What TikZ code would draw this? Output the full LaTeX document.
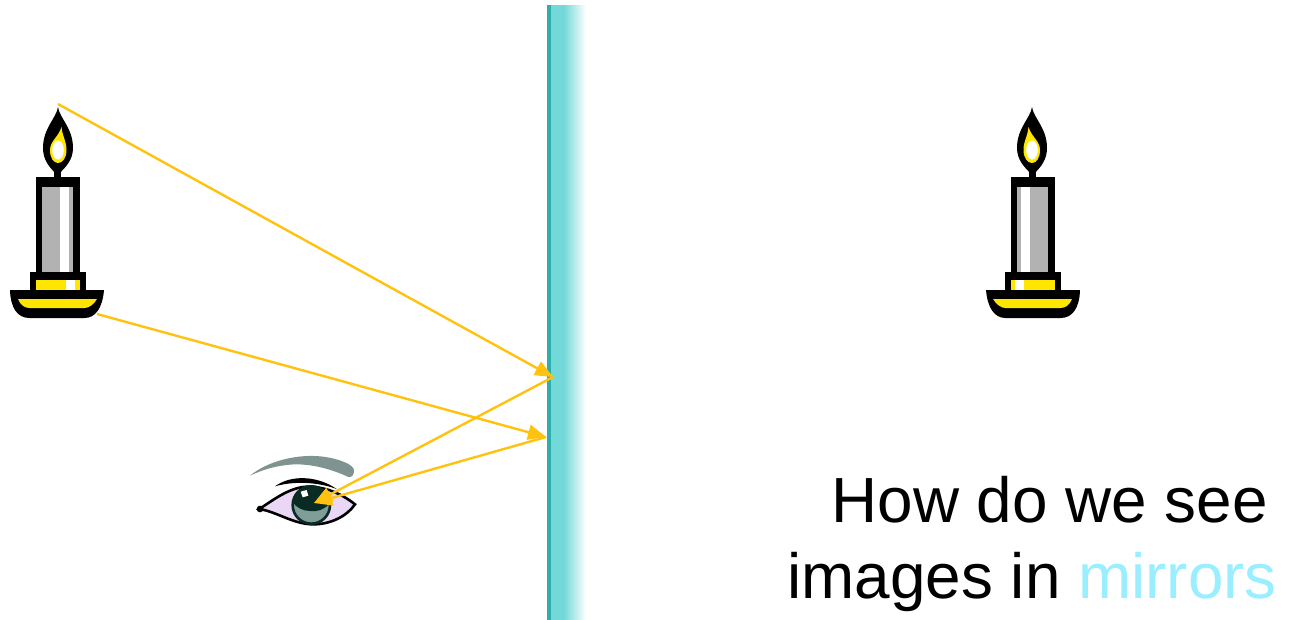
\documentclass[tikz,border=0pt]{standalone}
\usepackage{fontspec}
\setmainfont{Liberation Sans}
\usetikzlibrary{arrows.meta}
\definecolor{rayyellow}{HTML}{FFC20E}
\definecolor{waxyellow}{HTML}{FFE600}
\definecolor{waxgray}{HTML}{B2B2B2}
\definecolor{glassdark}{HTML}{2FAEAE}
\definecolor{glasslight}{HTML}{72D8D8}
\definecolor{browgray}{HTML}{7F9490}
\definecolor{lidlilac}{HTML}{EAD7F5}
\definecolor{irisgray}{HTML}{7F9E98}
\definecolor{pupildark}{HTML}{0A2A24}
\definecolor{wordcyan}{HTML}{99EEFF}
\tikzset{
  ray/.style={-{Triangle[length=18pt,width=15pt]},rayyellow,line width=2.4pt},
  caption/.style={font=\fontsize{63.8}{70}\selectfont,inner sep=0pt,anchor=base east},
  candle/.pic={
    % flame
    \fill[black] (0.5,107) .. controls (2,118) and (15.5,128) .. (15.5,148)
      .. controls (15.5,160) and (8,167) .. (3.3,172) -- (3.3,180) -- (-3.3,180) -- (-3.3,172)
      .. controls (-8,167) and (-14.5,160) .. (-14.5,148)
      .. controls (-14.5,128) and (-1,118) .. (0.5,107) -- cycle;
    \fill[waxyellow] (4,127) .. controls (5,137) and (9,141) .. (9,150)
      .. controls (9,158) and (5,163) .. (0.5,163)
      .. controls (-4,163) and (-7.5,158) .. (-7.5,150)
      .. controls (-7.5,141) and (1,137) .. (4,127) -- cycle;
    \fill[white] (0.5,150) ellipse (5.8 and 9.5);
    % wax body
    \fill[black] (-22,177) rectangle (22,272);
    \fill[waxgray] (-15.8,187) rectangle (15.5,272);
    \fill[white] (2.5,187) rectangle (11.5,272);
    % collar
    \fill[black] (-28,271.5) rectangle (28,291);
    \fill[waxyellow] (-22,280) rectangle (22,291);
    \fill[white] (8.5,280) rectangle (17.5,291);
    % dish
    \fill[black] (-47.5,290) -- (46.5,290) .. controls (45,308) and (38,318) .. (27,318)
      -- (-28,318) .. controls (-40,318) and (-47,308) .. (-47.5,290) -- cycle;
    \fill[waxyellow] (-39.5,299) -- (39.5,299) .. controls (36,305) and (31,308) .. (27,308)
      -- (-28,308) .. controls (-33,308) and (-37,305) .. (-39.5,299) -- cycle;
  }
}
\begin{document}
\begin{tikzpicture}[x=1pt,y=-1pt]
\useasboundingbox (0,0) rectangle (1289,619);
% mirror
\fill[glasslight] (551,5) rectangle (564,622);
\shade[left color=glasslight,right color=white,shading angle=90] (563.5,5) rectangle (586,622);
\fill[glassdark] (547,5) rectangle (551,622);
% candles
\pic at (57.5,0) {candle};
\pic[xscale=-1] at (1032.5,0) {candle};
% eye
\begin{scope}[shift={(240,445)},x=0.3333pt,y=-0.3333pt]
\fill[browgray] (30,92) .. controls (80,50) and (170,25) .. (250,35)
  .. controls (300,42) and (345,60) .. (342,78) .. controls (342,90) and (335,98) .. (325,96)
  .. controls (270,70) and (200,52) .. (140,60) .. controls (95,65) and (60,78) .. (30,92) -- cycle;
\fill[black] (105,124) .. controls (150,90) and (230,90) .. (290,132)
  .. controls (230,110) and (160,108) .. (105,124) -- cycle;
\draw[black,line width=2.6pt,fill=lidlilac] (58,192) .. controls (100,165) and (150,125) .. (205,125)
  .. controls (260,125) and (310,150) .. (345,178)
  .. controls (320,215) and (270,238) .. (220,238)
  .. controls (160,238) and (110,200) .. (58,192) -- cycle;
\fill[black] (60,192) circle (10);
\draw[pupildark,line width=2.6pt,fill=irisgray] (214,180) circle (56);
\fill[pupildark] (158,170) .. controls (160,135) and (190,125) .. (215,125)
  .. controls (240,125) and (270,140) .. (270,175)
  .. controls (250,195) and (235,200) .. (212,198)
  .. controls (190,198) and (170,190) .. (158,170) -- cycle;
\fill[white] (182,140) -- (200,135) -- (205,152) -- (188,157) -- cycle;
\end{scope}
% ray end points
\coordinate (flametip) at (58,104);
\coordinate (dishedge) at (97,314);
\coordinate (hitupper) at (553,377);
\coordinate (hitlower) at (546,437);
\coordinate (pupil) at (314,503);
\draw[ray] (flametip) -- (hitupper);
\draw[ray] (dishedge) -- (hitlower);
\draw[ray] (hitupper) -- (pupil);
\draw[ray] (hitlower) -- (pupil);
% caption
\node[caption] (line1) at (1268,522) {How do we see};
\node[caption] (line2) at (1277,598) {images in \textcolor{wordcyan}{mirrors}};
\end{tikzpicture}
\end{document}
